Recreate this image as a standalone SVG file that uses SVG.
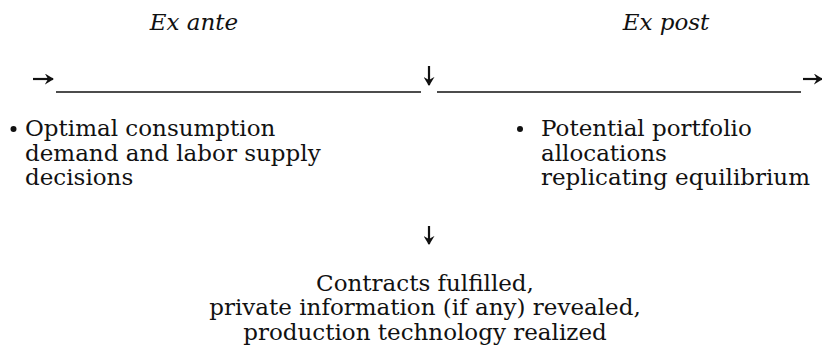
<svg xmlns="http://www.w3.org/2000/svg" width="822" height="356" viewBox="0 0 822 356">
  <defs>
    <style>
      .t { font-family: "DejaVu Serif", "Liberation Serif", serif; font-size: 23px; fill: #111; }
      .it { font-style: italic; }
      .mid { text-anchor: middle; }
      .rule { stroke: #111; stroke-width: 1.6; fill: none; }
      .shaft { stroke: #111; stroke-width: 2.2; fill: none; }
      .head { fill: #111; stroke: none; }
    </style>
    <marker id="tip" viewBox="0 0 10 10" refX="9" refY="5" markerWidth="9" markerHeight="11" markerUnits="userSpaceOnUse" orient="auto" preserveAspectRatio="none">
      <path d="M0,0 L10,5 L0,10 L3.5,5 Z" class="head"/>
    </marker>
  </defs>
  <rect width="822" height="356" fill="#fff"/>

  <!-- period headings -->
  <g id="exante"><text class="t it mid" x="194" y="30">Ex ante</text></g>
  <g id="expost"><text class="t it mid" x="666" y="30">Ex post</text></g>

  <!-- timeline and arrows -->
  <g id="connectors">
    <line class="rule" x1="56" y1="92" x2="421" y2="92"/>
    <line class="rule" x1="437" y1="92" x2="801" y2="92"/>
    <path class="shaft" d="M33,79 H53" marker-end="url(#tip)"/>
    <path class="shaft" d="M803,79 H822" marker-end="url(#tip)"/>
    <path class="shaft" d="M429,66 V85" marker-end="url(#tip)"/>
    <path class="shaft" d="M429,226 V244" marker-end="url(#tip)"/>
  </g>

  <!-- ex ante decisions -->
  <g id="decisions">
    <circle cx="13.5" cy="129" r="3" fill="#111"/>
    <text class="t" x="25" y="136">Optimal consumption</text>
    <text class="t" x="25" y="161">demand and labor supply</text>
    <text class="t" x="25" y="185">decisions</text>
  </g>

  <!-- ex post allocations -->
  <g id="allocations">
    <circle cx="520" cy="129" r="3" fill="#111"/>
    <text class="t" x="541" y="136">Potential portfolio</text>
    <text class="t" x="541" y="161">allocations</text>
    <text class="t" x="541" y="185">replicating equilibrium</text>
  </g>

  <!-- outcome -->
  <g id="outcome">
    <text class="t mid" x="425" y="291">Contracts fulfilled,</text>
    <text class="t mid" x="425" y="315">private information (if any) revealed,</text>
    <text class="t mid" x="425" y="340">production technology realized</text>
  </g>
</svg>
